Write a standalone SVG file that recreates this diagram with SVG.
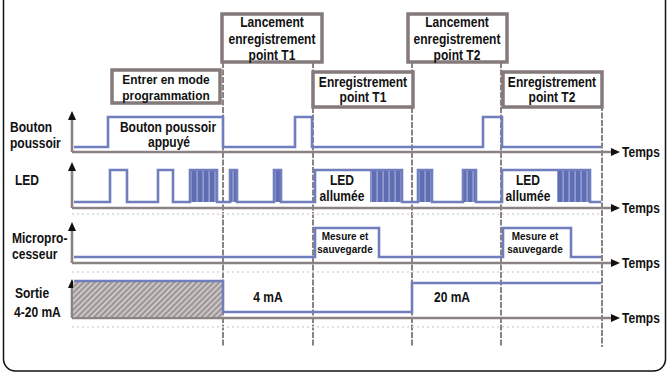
<svg xmlns="http://www.w3.org/2000/svg" width="670" height="374" viewBox="0 0 670 374">
<defs>
<style>
.frame{fill:#fff;stroke:#111;stroke-width:1.5}
.box{fill:#fff;stroke:#847a7a;stroke-width:3.5}
.t{font-family:"Liberation Sans",Arial,sans-serif;font-weight:bold;font-size:14px;fill:#111;text-anchor:middle}
.tb{font-family:"Liberation Sans",Arial,sans-serif;font-weight:bold;font-size:13.4px;fill:#111;text-anchor:middle}
.tl{font-family:"Liberation Sans",Arial,sans-serif;font-weight:bold;font-size:14px;fill:#111;text-anchor:start}
.ts{font-family:"Liberation Sans",Arial,sans-serif;font-weight:bold;font-size:11.6px;fill:#111;text-anchor:middle}
.sig{fill:none;stroke:#717ebd;stroke-width:2.6;stroke-linejoin:miter}
.axis{fill:none;stroke:#8b8383;stroke-width:2.6}
.div{fill:none;stroke:#8b8383;stroke-width:2;stroke-dasharray:6 1.5}
.faint{fill:none;stroke:#d6d3df;stroke-width:1.5;stroke-dasharray:2 3}
.dense{fill:url(#stripes)}
</style>
<marker id="ah" markerUnits="userSpaceOnUse" markerWidth="10" markerHeight="8" refX="1" refY="4" orient="auto">
<path d="M0,0 L9,4 L0,8 z" fill="#111"/>
</marker>
<pattern id="stripes" patternUnits="userSpaceOnUse" width="6" height="10">
<rect width="6" height="10" fill="#5f6db3"/>
<rect x="4.5" width="1.2" height="10" fill="#a7afdb"/>
</pattern>
<pattern id="hatch" patternUnits="userSpaceOnUse" width="4" height="4" patternTransform="rotate(45)">
<rect width="4" height="4" fill="#9f9797"/>
<rect width="1.4" height="4" fill="#dcd8d8"/>
</pattern>
</defs>

<rect class="frame" x="3.5" y="-20" width="662" height="391" rx="12"/>

<g id="dividers">
<path class="div" d="M223,62 V347 M313,62 V347 M412,62 V347 M501,62 V347 M602,90 V347"/>
<path class="faint" d="M72,214 H600 M72,272 H600 M72,327 H600"/>
</g>

<g id="box-entrer">
<rect class="box" x="112" y="70" width="108" height="33"/>
<text class="tb" transform="translate(166 84) scale(0.89 1)">Entrer en mode</text>
<text class="tb" transform="translate(166 100) scale(0.89 1)">programmation</text>
</g>
<g id="box-lancement-t1">
<rect class="box" x="222" y="14" width="100" height="48"/>
<text class="t" transform="translate(272 27) scale(0.86 1)">Lancement</text>
<text class="t" transform="translate(272 44) scale(0.86 1)">enregistrement</text>
<text class="t" transform="translate(272 60) scale(0.86 1)">point T1</text>
</g>
<g id="box-enreg-t1">
<rect class="box" x="313" y="72" width="100" height="35"/>
<text class="t" transform="translate(363 87) scale(0.86 1)">Enregistrement</text>
<text class="t" transform="translate(363 102) scale(0.86 1)">point T1</text>
</g>
<g id="box-lancement-t2">
<rect class="box" x="408" y="14" width="99" height="48"/>
<text class="t" transform="translate(457 27) scale(0.86 1)">Lancement</text>
<text class="t" transform="translate(457 44) scale(0.86 1)">enregistrement</text>
<text class="t" transform="translate(457 60) scale(0.86 1)">point T2</text>
</g>
<g id="box-enreg-t2">
<rect class="box" x="503" y="72" width="99" height="35"/>
<text class="t" transform="translate(552 87) scale(0.86 1)">Enregistrement</text>
<text class="t" transform="translate(552 102) scale(0.86 1)">point T2</text>
</g>

<g id="connectors">
<path class="axis" d="M72,152 V119" marker-end="url(#ah)"/>
<path class="axis" d="M72,152 H612" marker-end="url(#ah)"/>
<path class="axis" d="M72,208 V170" marker-end="url(#ah)"/>
<path class="axis" d="M72,208 H612" marker-end="url(#ah)"/>
<path class="axis" d="M72,263 V230" marker-end="url(#ah)"/>
<path class="axis" d="M72,263 H612" marker-end="url(#ah)"/>
<path class="axis" d="M72,318 V287" marker-end="url(#ah)"/>
<path class="axis" d="M72,318 H612" marker-end="url(#ah)"/>
</g>

<g id="row-bouton">
<text class="tl" transform="translate(10 132) scale(0.86 1)">Bouton</text>
<text class="tl" transform="translate(10 148) scale(0.86 1)">poussoir</text>
<path class="sig" d="M74,147 H108 V117 H223 V147 H295 V117 H312 V147 H483 V117 H502 V147 H601"/>
<text class="t" transform="translate(168 132) scale(0.86 1)">Bouton poussoir</text>
<text class="t" transform="translate(169 147) scale(0.86 1)">appuyé</text>
<text class="tl" transform="translate(622 157) scale(0.86 1)">Temps</text>
</g>

<g id="row-led">
<text class="tl" transform="translate(15 185) scale(0.86 1)">LED</text>
<rect class="dense" x="190" y="170" width="27" height="32"/>
<rect class="dense" x="230" y="170" width="7" height="32"/>
<rect class="dense" x="274" y="170" width="7" height="32"/>
<rect class="dense" x="370" y="170" width="32" height="32"/>
<rect class="dense" x="418" y="170" width="14" height="32"/>
<rect class="dense" x="463" y="170" width="13" height="32"/>
<rect class="dense" x="557" y="170" width="33" height="32"/>
<path class="sig" d="M74,202 H110 V170 H127 V202 H158 V170 H173 V202 H190 V170 H217 V202 H230 V170 H237 V202 H274 V170 H281 V202 H315 V170 H402 V202 H418 V170 H432 V202 H463 V170 H476 V202 H502 V170 H590 V202 H601"/>
<text class="t" transform="translate(342 185) scale(0.86 1)">LED</text>
<text class="t" transform="translate(342 201) scale(0.86 1)">allumée</text>
<text class="t" transform="translate(528 185) scale(0.86 1)">LED</text>
<text class="t" transform="translate(528 201) scale(0.86 1)">allumée</text>
<text class="tl" transform="translate(622 213) scale(0.86 1)">Temps</text>
</g>

<g id="row-micro">
<text class="tl" transform="translate(12 243) scale(0.86 1)">Micropro-</text>
<text class="tl" transform="translate(12 259) scale(0.86 1)">cesseur</text>
<path class="sig" d="M74,257 H315 V228 H379 V257 H503 V228 H571 V257 H601"/>
<text class="ts" transform="translate(345 240) scale(0.86 1)">Mesure et</text>
<text class="ts" transform="translate(345 253) scale(0.86 1)">sauvegarde</text>
<text class="ts" transform="translate(535 240) scale(0.86 1)">Mesure et</text>
<text class="ts" transform="translate(535 253) scale(0.86 1)">sauvegarde</text>
<text class="tl" transform="translate(622 268) scale(0.86 1)">Temps</text>
</g>

<g id="row-sortie">
<text class="tl" transform="translate(15 298) scale(0.86 1)">Sortie</text>
<text class="tl" transform="translate(14 317) scale(0.86 1)">4-20 mA</text>
<rect x="73" y="282" width="150" height="35" fill="url(#hatch)"/>
<path class="sig" d="M74,281 H223 V312 H412 V283 H601"/>
<text class="t" transform="translate(268 302) scale(0.86 1)">4 mA</text>
<text class="t" transform="translate(452 302) scale(0.86 1)">20 mA</text>
<text class="tl" transform="translate(622 323) scale(0.86 1)">Temps</text>
</g>
</svg>
